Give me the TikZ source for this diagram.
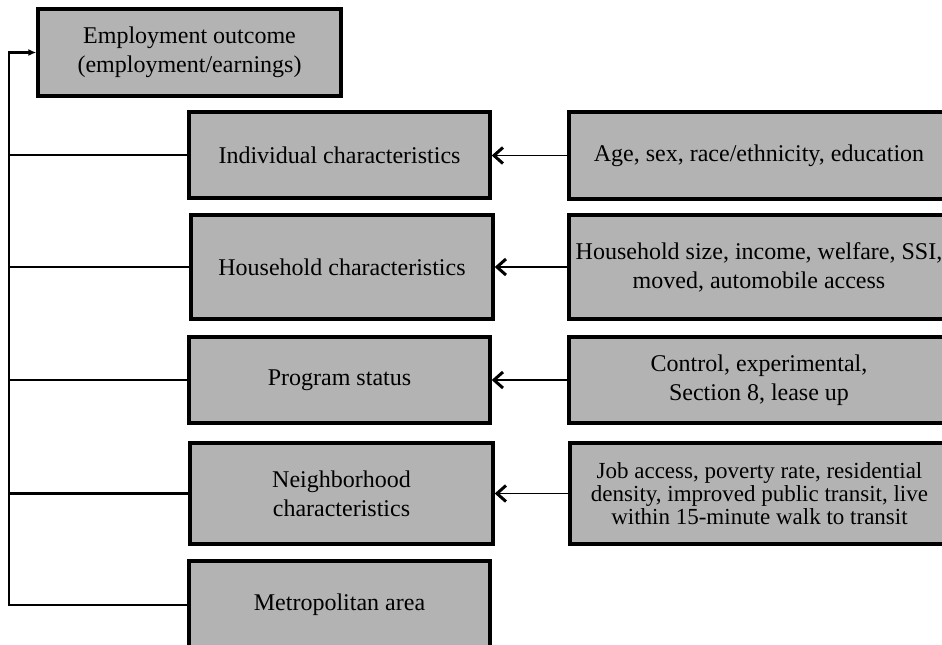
\documentclass[tikz,border=0pt]{standalone}
\usepackage{fontspec}
\setmainfont{Liberation Serif}
\usetikzlibrary{arrows.meta}
\definecolor{box grey}{HTML}{B3B3B3}

\begin{document}
\begin{tikzpicture}[x=0.5pt, y=-0.5pt]
            \tikzset{factor/.style={draw, line width=1.7pt, fill=box grey, align=center, inner sep=0pt, minimum width=#1, font={\fontsize{12}{14.5}\selectfont}}}
            \tikzset{feed/.style={-{Straight Barb[length=4.5pt, width=8pt, line width=1.5pt]}, line width=0.7pt}}
            \tikzset{trunk/.style={line width=1.4pt}}
            \useasboundingbox (0, 0) rectangle (942, 644);
            \node[factor=151.5pt, minimum height=43.5pt] (outcome) at (189.5, 52.5) {Employment outcome\\(employment/earnings)};
            \node[factor=150.5pt, minimum height=43pt] (indiv) at (339.5, 155) {Individual characteristics};
            \node[factor=151pt, minimum height=52pt] (household) at (342, 267) {Household characteristics};
            \node[factor=150.5pt, minimum height=43pt] (program) at (339.5, 380) {Program status};
            \node[factor=151.5pt, minimum height=50.5pt] (nbh) at (341.5, 493.5) {Neighborhood\\characteristics};
            \node[factor=150.5pt, minimum height=44pt] (metro) at (339.5, 605) {Metropolitan area};
            \node[factor=190pt, minimum height=43.5pt] (indivvars) at (759, 155.5) {Age, sex, race/ethnicity, education};
            \node[factor=190pt, minimum height=52pt] (hhvars) at (759, 267) {Household size, income, welfare, SSI,\\moved, automobile access};
            \node[factor=190pt, minimum height=43pt] (progvars) at (759, 380) {Control, experimental,\\Section 8, lease up};
            \node[factor=189.5pt, minimum height=50.5pt, font={\fontsize{11.5}{9.5}\selectfont}] (nbhvars) at (759.5, 493.5) {Job access, poverty rate, residential\\density, improved public transit, live\\within 15-minute walk to transit};
            \coordinate (bend) at (9, 605);

            \draw[trunk, -{Latex[length=4pt, width=3.5pt]}] (metro.west) -- (bend) |- (outcome.west);
            \foreach \n in {indiv, household, program, nbh}
                \draw[trunk] (\n.west) -- (\n.west -| bend);
            \draw[feed] (indivvars.west) -- (indivvars.west -| indiv.east);
            \draw[feed] (hhvars.west) -- (household.east);
            \draw[feed] (progvars.west) -- (program.east);
            \draw[feed] (nbhvars.west) -- (nbh.east);
        \end{tikzpicture}
\end{document}
